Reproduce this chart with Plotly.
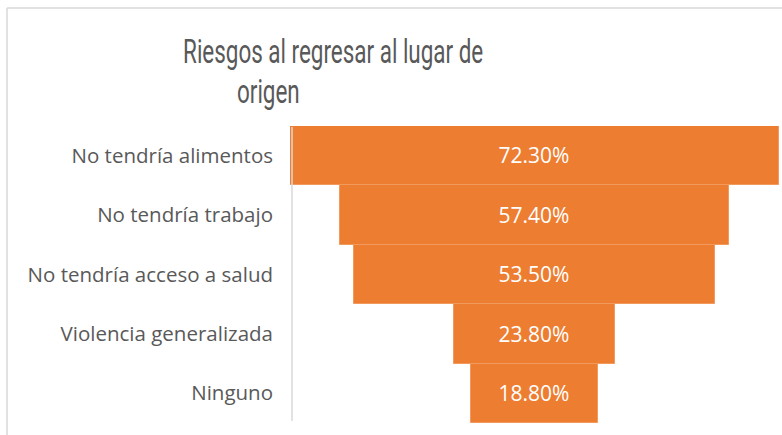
import plotly.graph_objects as go

categories = ["No tendría alimentos", "No tendría trabajo", "No tendría acceso a salud",
              "Violencia generalizada", "Ninguno"]
values = [72.3, 57.4, 53.5, 23.8, 18.8]
labels = ["72.30%", "57.40%", "53.50%", "23.80%", "18.80%"]
title_lines = ["Riesgos al regresar al lugar de", "origen"]

W, H = 782, 435
L, R, T, B = 290, 3, 126, 12
pw, ph = W - L - R, H - T - B

def px(x):
    return (x - L) / pw

def py(y):
    return (H - B - y) / ph

fig = go.Figure(go.Funnel(
    y=categories,
    x=values,
    text=labels,
    textinfo="text",
    textposition="inside",
    insidetextanchor="middle",
    textfont=dict(color="white", size=21, family="Open Sans"),
    marker=dict(color="#ED7D31", line=dict(color="#F29A5C", width=1)),
    connector=dict(visible=False),
    hoverinfo="skip",
))

half = max(values) / 2
fig.update_layout(
    width=W, height=H,
    margin=dict(l=L, r=R, t=T, b=B),
    paper_bgcolor="white", plot_bgcolor="white",
    funnelgap=0,
    showlegend=False,
    xaxis=dict(visible=False, range=[-half, half], fixedrange=True),
    yaxis=dict(showline=False, showgrid=False, ticks="", fixedrange=True,
               tickfont=dict(color="#595959", size=20.5, family="Open Sans"),
               ticklabelstandoff=16),
    font=dict(family="Open Sans"),
)

# title (two lines, condensed horizontally via CSS below)
fig.add_annotation(text=title_lines[0], xref="paper", yref="paper",
                   x=px(181), y=py(51), xanchor="left", yanchor="middle",
                   showarrow=False, font=dict(size=34, color="#595959", family="Roboto"))
fig.add_annotation(text=title_lines[1], xref="paper", yref="paper",
                   x=px(235), y=py(91), xanchor="left", yanchor="middle",
                   showarrow=False, font=dict(size=34, color="#595959", family="Roboto"))

# axis line
fig.add_shape(type="line", xref="paper", yref="paper",
              x0=px(292), x1=px(292), y0=py(127), y1=py(421),
              line=dict(color="#D9D9D9", width=1.5), layer="above")
# chart border
fig.add_shape(type="line", xref="paper", yref="paper",
              x0=px(7), x1=px(7), y0=py(8), y1=py(440),
              line=dict(color="#D9D9D9", width=1.5))
fig.add_shape(type="line", xref="paper", yref="paper",
              x0=px(7), x1=px(790), y0=py(8), y1=py(8),
              line=dict(color="#D9D9D9", width=1.5))

css = ("body{margin:0;overflow:hidden}"
       ".annotation-text{transform-box:fill-box;transform-origin:0% 50%;transform:scaleX(0.66);}")
post = ("var s=document.createElement('style');s.textContent=" + repr(css) +
        ";document.head.appendChild(s);")

fig.write_html("out.html", post_script=post, config={"displayModeBar": False})
